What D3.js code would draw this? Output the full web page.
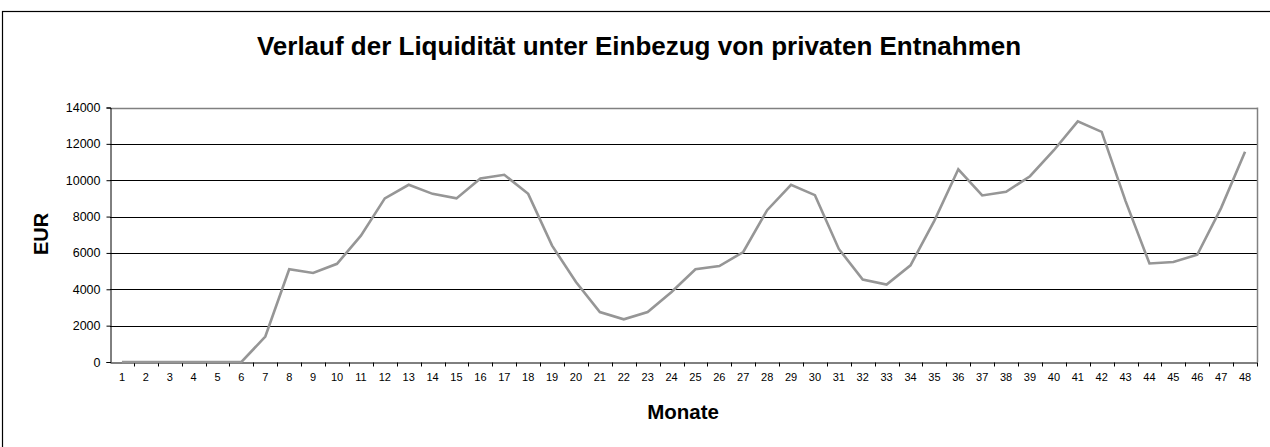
<!DOCTYPE html>
<html>
<head>
<meta charset="utf-8">
<script src="https://cdn.jsdelivr.net/npm/d3@7"></script>
<style>
  body { margin: 0; background: #fff; }
  text { font-family: "Liberation Sans", Arial, sans-serif; }
</style>
</head>
<body>
<div class="chart"></div>
<script>
// chart data
var months = d3.range(1, 49);
var liquidity = [
    0, 0, 0, 0, 0, 0, 1400, 5100, 4900, 5400, 6950, 9000,
    9750, 9250, 9000, 10100, 10300, 9250, 6400, 4400, 2750, 2350, 2750, 3850,
    5100, 5280, 6050, 8350, 9750, 9180, 6220, 4540, 4260, 5320, 7780, 10600,
    9160, 9360, 10220, 11650, 13240, 12660, 8850, 5420, 5500, 5900, 8480, 11560
];
var yTicks = [0, 2000, 4000, 6000, 8000, 10000, 12000, 14000];
var title = "Verlauf der Liquidität unter Einbezug von privaten Entnahmen";
var xTitle = "Monate";
var yTitle = "EUR";

var width = 1270,
    height = 447,
    margin = {top: 107.5, right: 13, bottom: 85, left: 110};

var svg = d3.select(".chart")
            .append("svg")
            .attr("width", width)
            .attr("height", height);

// outer frame
svg.append("rect")
    .attr("x", 2.5)
    .attr("y", 11.5)
    .attr("width", 1300)
    .attr("height", 500)
    .attr("fill", "none")
    .attr("stroke", "#000")
    .attr("stroke-width", 1.2);

var x = d3.scaleBand()
          .domain(months)
          .range([margin.left, width - margin.right]);

var y = d3.scaleLinear()
          .domain([0, 14000])
          .range([height - margin.bottom, margin.top]);

// gridlines
svg.append("g")
    .selectAll("line")
    .data(yTicks.slice(1))
    .enter()
    .append("line")
    .attr("x1", margin.left)
    .attr("x2", width - margin.right)
    .attr("y1", function (d) { return Math.round(y(d)) + 0.5; })
    .attr("y2", function (d) { return Math.round(y(d)) + 0.5; })
    .attr("stroke", function (d) { return d == 14000 ? "#808080" : "#000"; })
    .attr("stroke-width", function (d) { return d == 14000 ? 1.5 : 1; });

// plot border on the right
svg.append("line")
    .attr("x1", width - margin.right + 0.5)
    .attr("x2", width - margin.right + 0.5)
    .attr("y1", y(14000))
    .attr("y2", y(0))
    .attr("stroke", "#808080")
    .attr("stroke-width", 1.5);

// y axis
var yAxis = d3.axisLeft(y)
              .tickValues(yTicks)
              .tickSize(4)
              .tickPadding(6)
              .tickFormat(d3.format("d"));

svg.append("g")
    .attr("transform", "translate(" + (margin.left + 0.5) + ",0)")
    .call(yAxis)
    .call(function (g) {
        g.select(".domain").attr("stroke", "#000");
        g.selectAll("text").attr("font-size", 12.5).attr("fill", "#000");
    });

// x axis with ticks on the category boundaries
var xAxis = d3.axisBottom(x).tickSize(0).tickPadding(11);

var xg = svg.append("g")
    .attr("transform", "translate(0," + (Math.round(y(0)) + 0.5) + ")")
    .call(xAxis);

xg.select(".domain").attr("stroke", "#000");
xg.selectAll("text").attr("font-size", 11).attr("fill", "#000");

xg.selectAll(".bound")
    .data(months)
    .enter()
    .append("line")
    .attr("x1", function (d) { return Math.round(x(d) + x.bandwidth()) + 0.5; })
    .attr("x2", function (d) { return Math.round(x(d) + x.bandwidth()) + 0.5; })
    .attr("y1", 0)
    .attr("y2", 4)
    .attr("stroke", "#000");

// liquidity line
var line = d3.line()
             .x(function (d, i) { return x(months[i]) + x.bandwidth() / 2; })
             .y(function (d) { return y(d); });

svg.append("path")
    .datum(liquidity)
    .attr("d", line)
    .attr("fill", "none")
    .attr("stroke", "#969696")
    .attr("stroke-width", 2.6)
    .attr("stroke-linejoin", "miter");

// titles
svg.append("text")
    .attr("x", 639)
    .attr("y", 55)
    .attr("text-anchor", "middle")
    .attr("font-size", 26)
    .attr("font-weight", "bold")
    .text(title);

svg.append("text")
    .attr("x", 683)
    .attr("y", 419)
    .attr("text-anchor", "middle")
    .attr("font-size", 20.5)
    .attr("font-weight", "bold")
    .text(xTitle);

svg.append("text")
    .attr("transform", "translate(48,234) rotate(-90)")
    .attr("text-anchor", "middle")
    .attr("font-size", 20)
    .attr("font-weight", "bold")
    .text(yTitle);
</script>
</body>
</html>
